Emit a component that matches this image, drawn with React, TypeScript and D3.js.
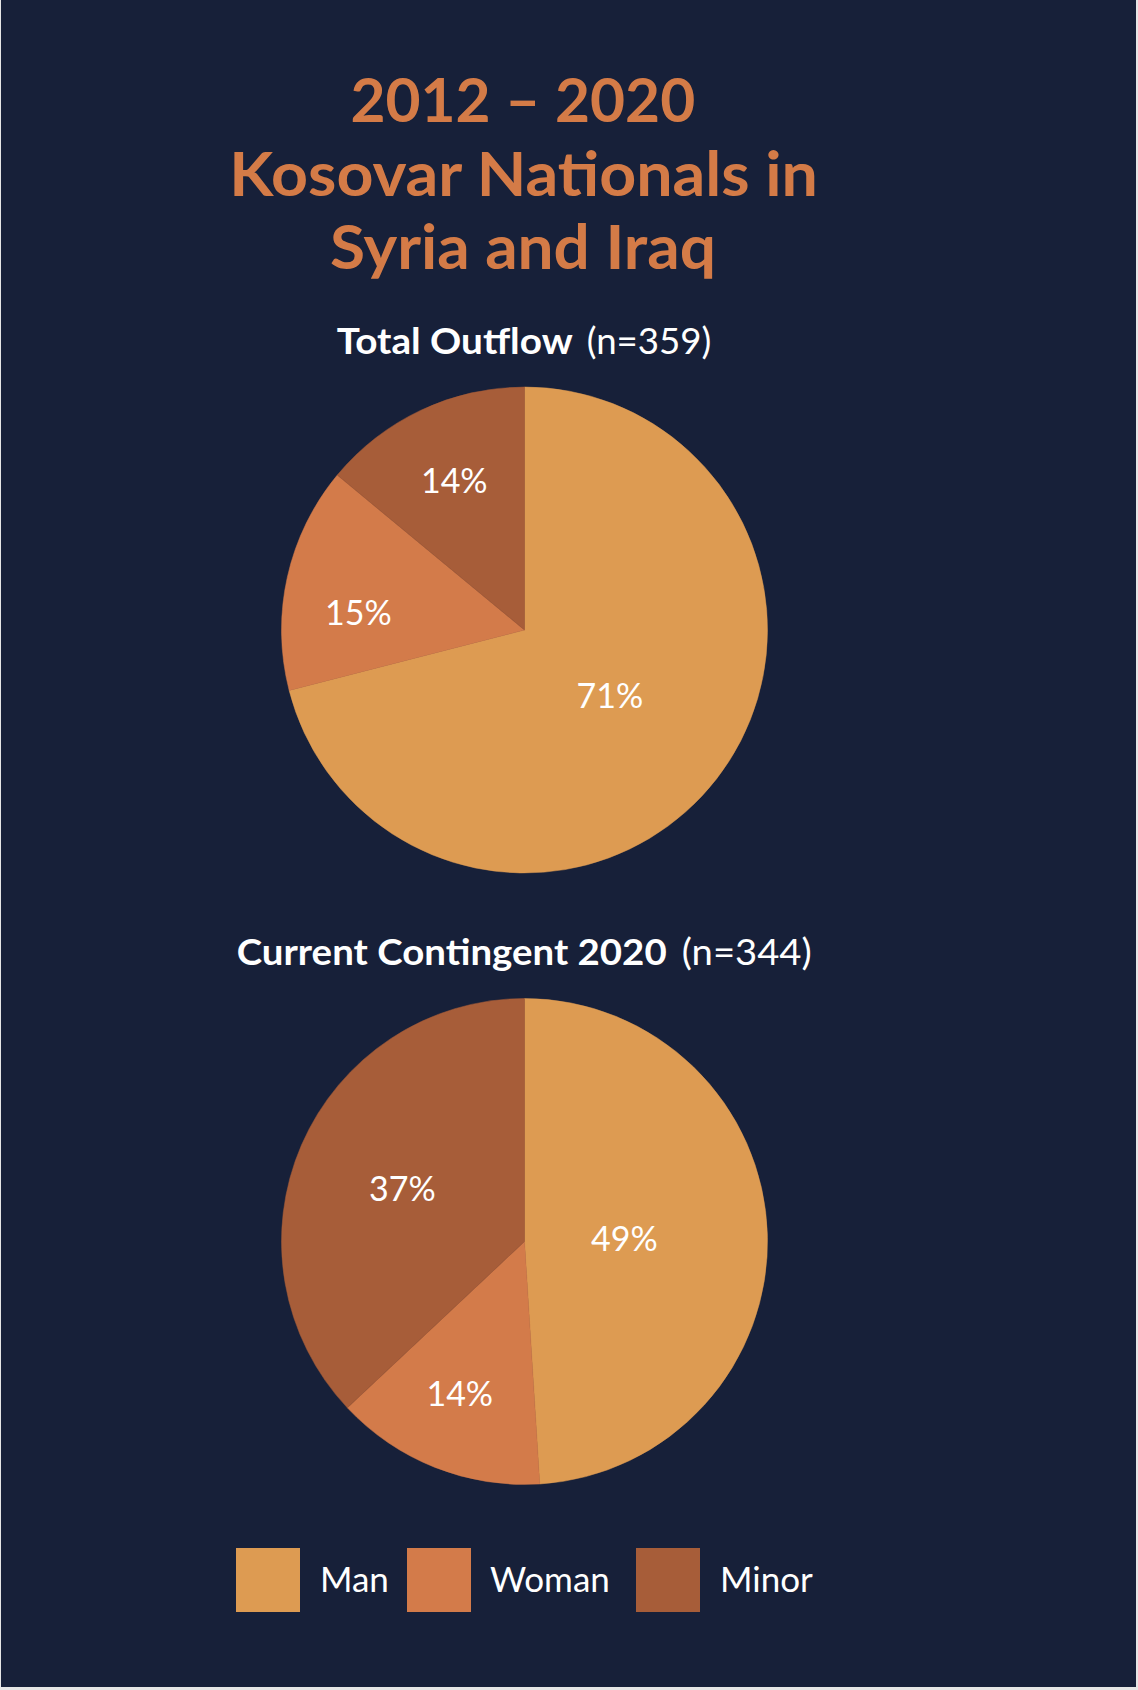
import React, { useEffect } from "react";
import * as d3 from "d3";

// ---- data ----
const categories = ["Man", "Woman", "Minor"];
const outflowValues = [71, 15, 14];
const contingentValues = [49, 14, 37];
const outflowTitle = "Total Outflow";
const outflowN = "(n=359)";
const contingentTitle = "Current Contingent 2020";
const contingentN = "(n=344)";
const titleLines = ["2012 – 2020", "Kosovar Nationals in", "Syria and Iraq"];

// ---- styles ----
const colors = ["#DD9B52", "#D37B4A", "#A75D39"];
const BG = "#172039";
const TITLE_COLOR = "#D47B47";
const FONT = "Lato, 'Open Sans', sans-serif";

const W = 1138;
const H = 1690;
const R = 243;
const CX = 524.5;

// title layout (baseline y, left x, width)
const titleLayout = [
  { y: 121.7, x: 350.5, w: 344.7 },
  { y: 196, x: 229.3, w: 588.6 },
  { y: 269.3, x: 330, w: 386 },
];

type PieSpec = {
  cy: number;
  values: number[];
  labelR: number[];
  labelShiftDeg: number[];
  head: string;
  n: string;
  headY: number;
  boldX: number;
  boldW: number;
  regX: number;
  regW: number;
};

const pies: PieSpec[] = [
  {
    cy: 630,
    values: outflowValues,
    labelR: [108, 167, 165],
    labelShiftDeg: [0, -6.8, 0],
    head: outflowTitle,
    n: outflowN,
    headY: 354.3,
    boldX: 336.7,
    boldW: 236,
    regX: 586.7,
    regW: 124.6,
  },
  {
    cy: 1241.5,
    values: contingentValues,
    labelR: [100, 165, 133],
    labelShiftDeg: [0, 1.5, 0],
    head: contingentTitle,
    n: contingentN,
    headY: 965,
    boldX: 236.7,
    boldW: 430,
    regX: 681.7,
    regW: 130,
  },
];

const legendLayout = [
  { sx: 236, tx: 320 },
  { sx: 407, tx: 490 },
  { sx: 636, tx: 720 },
];

export default function App() {
  useEffect(() => {
    document.body.style.margin = "0";
    document.body.style.background = "#e6e6e6";
  }, []);

  const pieGen = d3
    .pie<number>()
    .sort(null)
    .value((d) => d);
  const arcGen = d3.arc<d3.PieArcDatum<number>>().innerRadius(0).outerRadius(R);
  const color = d3.scaleOrdinal<string, string>().domain(categories).range(colors);

  return (
    <svg width={W} height={H} style={{ display: "block" }} fontFamily={FONT}>
      <rect x={0} y={0} width={W} height={H} fill="#e6e6e6" />
      <rect x={1} y={0} width={1135} height={1687} fill={BG} />

      {titleLines.map((t, i) => (
        <text
          key={t}
          x={titleLayout[i].x}
          y={titleLayout[i].y}
          fill={TITLE_COLOR}
          fontSize={61}
          fontWeight={700}
          textLength={titleLayout[i].w}
          lengthAdjust="spacingAndGlyphs"
        >
          {t}
        </text>
      ))}

      {pies.map((p, pi) => {
        const arcs = pieGen(p.values);
        return (
          <g key={pi}>
            <text
              x={p.boldX}
              y={p.headY}
              fill="#fff"
              fontSize={37}
              fontWeight={700}
              textLength={p.boldW}
              lengthAdjust="spacingAndGlyphs"
            >
              {p.head}
            </text>
            <text
              x={p.regX}
              y={p.headY}
              fill="#fff"
              fontSize={37}
              fontWeight={400}
              textLength={p.regW}
              lengthAdjust="spacingAndGlyphs"
            >
              {p.n}
            </text>
            <g transform={`translate(${CX},${p.cy})`}>
              {arcs.map((a, i) => (
                <path
                  key={i}
                  d={arcGen(a) || ""}
                  fill={color(categories[i])}
                  stroke={color(categories[i])}
                  strokeWidth={0.5}
                />
              ))}
              {arcs.map((a, i) => {
                const lr = p.labelR[i];
                const ang =
                  (a.startAngle + a.endAngle) / 2 + (p.labelShiftDeg[i] * Math.PI) / 180;
                const x = lr * Math.sin(ang);
                const y = -lr * Math.cos(ang);
                return (
                  <text
                    key={"l" + i}
                    x={x}
                    y={y}
                    dy="0.36em"
                    textAnchor="middle"
                    fill="#fff"
                    fontSize={34}
                  >
                    {`${a.data}%`}
                  </text>
                );
              })}
            </g>
          </g>
        );
      })}

      {categories.map((c, i) => (
        <g key={c}>
          <rect x={legendLayout[i].sx} y={1548} width={64} height={64} fill={color(c)} />
          <text x={legendLayout[i].tx} y={1592} fill="#fff" fontSize={35}>
            {c}
          </text>
        </g>
      ))}
    </svg>
  );
}
